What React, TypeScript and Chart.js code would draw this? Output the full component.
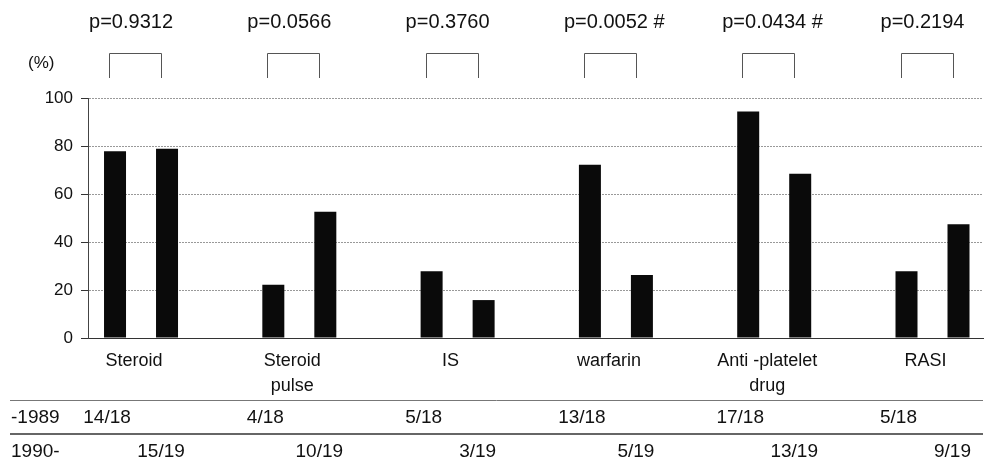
import React, { useEffect, useRef } from "react";
import { Chart, registerables } from "chart.js";

Chart.register(...registerables);

const categories: string[][] = [
  ["Steroid"],
  ["Steroid", "pulse"],
  ["IS"],
  ["warfarin"],
  ["Anti -platelet", "drug"],
  ["RASI"],
];
const values1989 = [77.8, 22.2, 27.8, 72.2, 94.4, 27.8];
const values1990 = [78.9, 52.6, 15.8, 26.3, 68.4, 47.4];
const pValues = ["p=0.9312", "p=0.0566", "p=0.3760", "p=0.0052 #", "p=0.0434 #", "p=0.2194"];
const counts1989 = ["14/18", "4/18", "5/18", "13/18", "17/18", "5/18"];
const counts1990 = ["15/19", "10/19", "3/19", "5/19", "13/19", "9/19"];
const rowLabels = ["-1989", "1990-"];
const yTicks = [0, 20, 40, 60, 80, 100];

const FONT = '"Liberation Sans", Arial, sans-serif';

const annotationPlugin = {
  id: "annotations",
  afterDraw(chart: any) {
    const { ctx } = chart;
    const xs = chart.scales.x;
    ctx.save();
    ctx.fillStyle = "#111";
    ctx.textBaseline = "middle";

    ctx.font = `17px ${FONT}`;
    ctx.textAlign = "left";
    ctx.fillText("(%)", 28, 63);

    categories.forEach((lines, i) => {
      const c = xs.getPixelForValue(i);
      ctx.font = `20px ${FONT}`;
      ctx.textAlign = "left";
      ctx.fillStyle = "#111";
      ctx.fillText(pValues[i], c - 52, 22);
      ctx.strokeStyle = "#555";
      ctx.lineWidth = 1;
      ctx.beginPath();
      const l = Math.round(c - 32) + 0.5;
      const r = Math.round(c + 20) + 0.5;
      ctx.moveTo(l, 78);
      ctx.lineTo(l, 53.5);
      ctx.lineTo(r, 53.5);
      ctx.lineTo(r, 78);
      ctx.stroke();
      ctx.font = `18px ${FONT}`;
      ctx.textAlign = "center";
      lines.forEach((t, k) => ctx.fillText(t, c - 7, 361 + k * 25));
      ctx.font = `19px ${FONT}`;
      ctx.fillText(counts1989[i], c - 34, 418);
      ctx.fillText(counts1990[i], c + 20, 452);
    });

    ctx.strokeStyle = "#777";
    ctx.lineWidth = 1;
    ctx.beginPath();
    ctx.moveTo(10, 400.5);
    ctx.lineTo(983, 400.5);
    ctx.stroke();
    ctx.strokeStyle = "#666";
    ctx.lineWidth = 2;
    ctx.beginPath();
    ctx.moveTo(10, 434);
    ctx.lineTo(983, 434);
    ctx.stroke();

    ctx.font = `19px ${FONT}`;
    ctx.textAlign = "left";
    ctx.fillStyle = "#111";
    ctx.fillText(rowLabels[0], 11, 418);
    ctx.fillText(rowLabels[1], 11, 452);
    ctx.restore();
  },
};

export default function App() {
  const ref = useRef<HTMLCanvasElement | null>(null);
  useEffect(() => {
    document.body.style.margin = "0";
    const canvas = ref.current;
    if (!canvas) return;
    const chart = new Chart(canvas, {
      type: "bar",
      data: {
        datasets: [
          {
            label: "-1989",
            data: values1989.map((v, i) => ({ x: i, y: v })),
            backgroundColor: "#0a0a0a",
            borderWidth: 0,
          },
          {
            label: "1990-",
            data: values1990.map((v, i) => ({ x: i, y: v })),
            backgroundColor: "#0a0a0a",
            borderWidth: 0,
          },
        ],
      },
      options: {
        responsive: false,
        animation: false,
        layout: { padding: { top: 98, left: 0, right: 8, bottom: 125 } },
        categoryPercentage: 0.657,
        barPercentage: 0.423,
        plugins: {
          legend: { display: false },
          tooltip: { enabled: false },
        },
        scales: {
          x: {
            type: "linear",
            min: -0.335,
            max: 5.319,
            offset: false,
            afterBuildTicks: (scale: any) => {
              scale.ticks = categories.map((_, i) => ({ value: i }));
            },
            afterFit: (scale: any) => {
              scale.height = 0;
            },
            ticks: { display: false },
            grid: { display: false },
            border: { display: true, color: "#333", width: 1 },
          },
          y: {
            min: 0,
            max: 100,
            afterBuildTicks: (scale: any) => {
              scale.ticks = yTicks.map((v) => ({ value: v }));
            },
            afterFit: (scale: any) => {
              scale.width = 88;
            },
            ticks: {
              font: { family: FONT, size: 17 },
              color: "#111",
              padding: 8,
            },
            grid: {
              color: "#999",
              lineWidth: 1,
              tickLength: 7,
              tickColor: "#333",
              tickBorderDash: [],
            },
            border: { display: true, color: "#444", width: 1, dash: [2, 1] },
          },
        },
      } as any,
      plugins: [annotationPlugin],
    });
    return () => chart.destroy();
  }, []);
  return (
    <div style={{ position: "fixed", left: 0, top: 0, width: 991, height: 463, background: "#fff" }}>
      <canvas ref={ref} width={991} height={463} />
    </div>
  );
}
